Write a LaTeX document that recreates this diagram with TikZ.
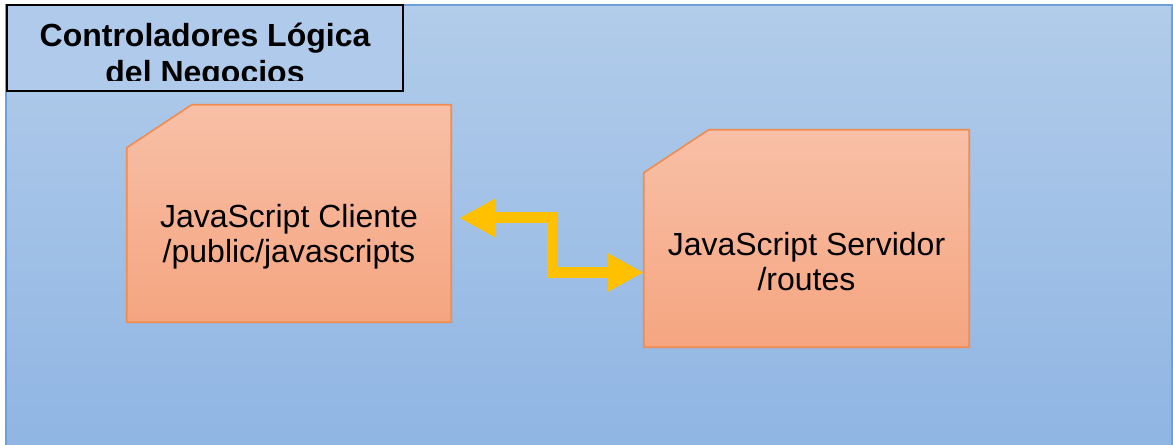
\documentclass[tikz,border=0pt]{standalone}
\usepackage{fontspec}
\setmainfont{Liberation Sans}
\usetikzlibrary{calc,arrows.meta}

\definecolor{panelTop}{RGB}{178,204,234}
\definecolor{panelBot}{RGB}{143,181,227}
\definecolor{panelLine}{RGB}{110,160,222}
\definecolor{titleFill}{RGB}{175,202,234}
\definecolor{boxTop}{RGB}{248,192,167}
\definecolor{boxBot}{RGB}{245,165,128}
\definecolor{boxLine}{RGB}{240,140,80}
\definecolor{linkGold}{RGB}{255,192,0}

\tikzset{
  panel/.style={top color=panelTop, bottom color=panelBot, draw=panelLine, line width=1.5pt},
  frame/.style={rectangle, inner sep=0pt, draw=none},
  boxfill/.style={top color=boxTop, bottom color=boxBot, draw=boxLine, line width=1.2pt, line join=miter},
  boxtext/.style={align=center, font=\fontsize{24}{26.25}\selectfont, inner sep=0pt},
  titlebox/.style={rectangle, draw=black, line width=1.5pt, fill=titleFill, inner sep=0pt,
    minimum width=297pt, minimum height=64.5pt},
  titletext/.style={align=center, font=\fontsize{24}{27.75}\selectfont\bfseries, inner sep=0pt},
  link/.style={draw=linkGold, line width=8.25pt, line join=miter,
    {Triangle[length=27pt,width=27pt]}-{Triangle[length=27pt,width=27pt]}},
}

\begin{document}
\begin{tikzpicture}[x=0.75pt,y=-0.75pt]
\useasboundingbox (0,0) rectangle (1173,445);

% background panel
\path[panel] (6,5) rectangle (1172,452);

% title tab, its second line cut off by the box edge
\node[titlebox] (ttl) at (205,48) {};
\begin{scope}
  \clip (8,6) rectangle (402,81);
  \node[titletext] (ttltxt) at (205,57) {Controladores Lógica\\del Negocios};
\end{scope}

% client-side scripts (snipped corner at top left)
\node[frame, minimum width=243pt, minimum height=162.75pt] (cli) at (289,213.5) {};
\path[boxfill] (cli.south west) -- ($(cli.north west)+(0,43)$) -- ($(cli.north west)+(65,0)$)
  -- (cli.north east) -- (cli.south east) -- cycle;
\node[boxtext] (clitxt) at ($(cli.center)+(0,23)$) {JavaScript Cliente\\/public/javascripts};

% server-side routes
\node[frame, minimum width=243.75pt, minimum height=162.75pt] (srv) at (806.5,238.5) {};
\path[boxfill] (srv.south west) -- ($(srv.north west)+(0,43)$) -- ($(srv.north west)+(65,0)$)
  -- (srv.north east) -- (srv.south east) -- cycle;
\node[boxtext] (srvtxt) at ($(srv.center)+(0,23)$) {JavaScript Servidor\\/routes};

% two-way link between client and server
\coordinate (bend) at (552,245);
\draw[link] ($(cli.east)+(8,4.5)$) -| (bend) |- ($(srv.west)+(0,34)$);
\end{tikzpicture}
\end{document}
